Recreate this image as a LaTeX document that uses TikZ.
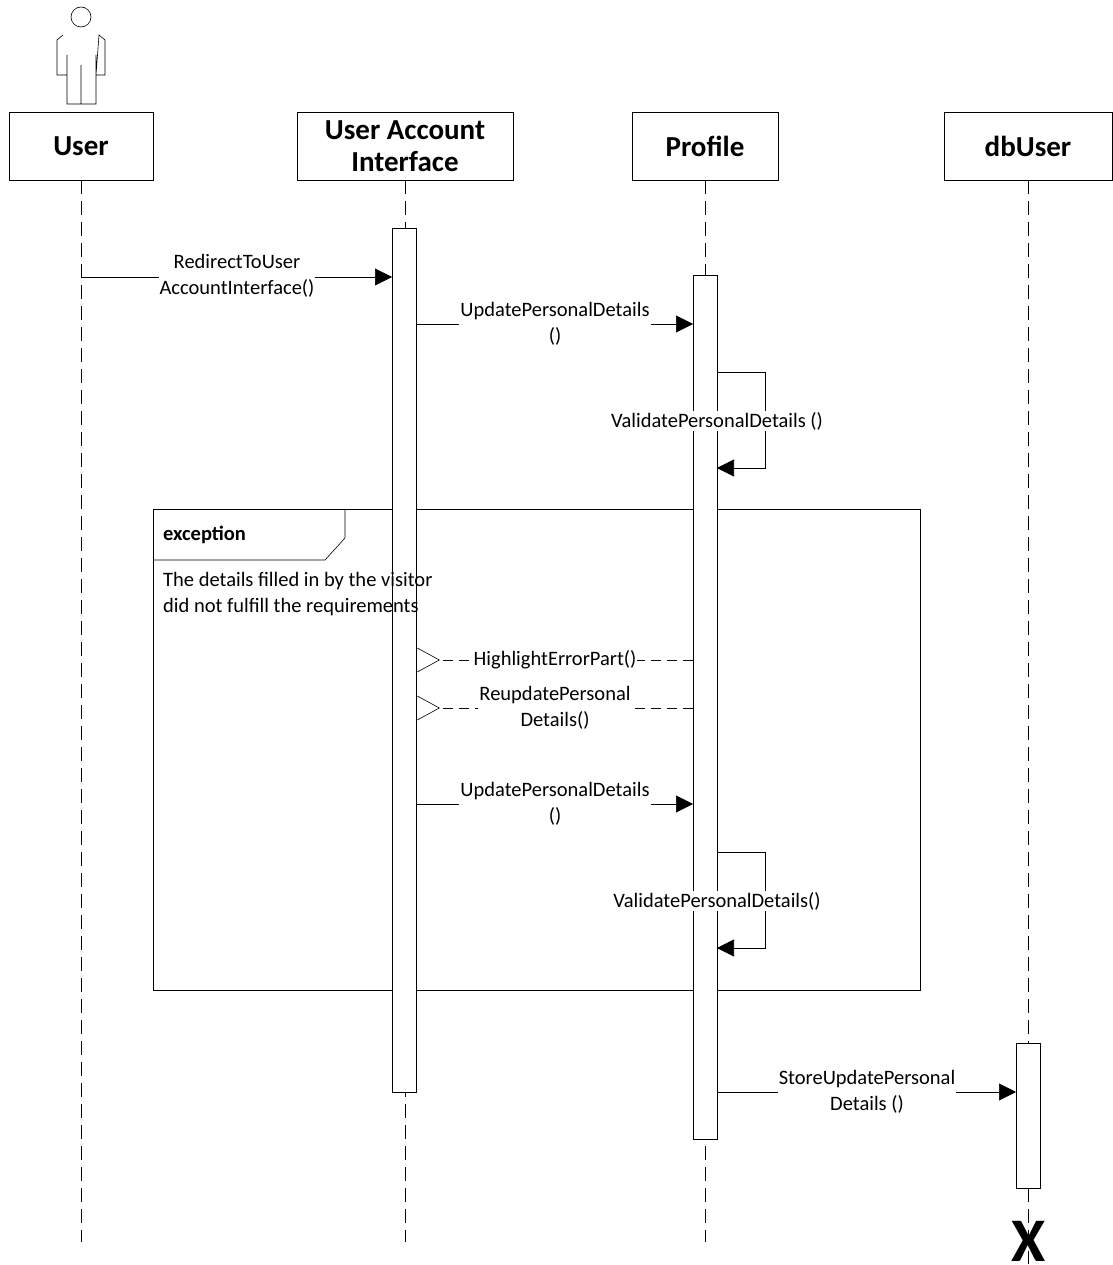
\documentclass[tikz,border=0pt]{standalone}
\usepackage{fontspec}
\setmainfont{Carlito}
\usetikzlibrary{arrows.meta,positioning}
\begin{document}
\begin{tikzpicture}[x=1pt,y=-1pt]
    \tikzset{HD/.style={draw=black,semithick,minimum height=68pt,font=\fontsize{29}{32}\selectfont\bfseries,align=center,inner sep=0pt}}
    \tikzset{LL/.style={draw=black,semithick,dash pattern=on 14pt off 7pt}}
    \tikzset{AC/.style={draw=black,fill=white,semithick,minimum width=24pt,inner sep=0pt}}
    \tikzset{MS/.style={draw=black,semithick,-{Triangle[length=17pt,width=17pt]}}}
    \tikzset{RT/.style={draw=black,semithick,dash pattern=on 10pt off 6pt,-{Straight Barb[length=22pt,width=24pt,reversed,sep=0pt]}}}
    \tikzset{TX/.style={fill=white,font=\fontsize{20.5}{26}\selectfont,align=center,inner sep=1pt}}
    \useasboundingbox (0,0) rectangle (1112,1265);

    \node (user) [HD,minimum width=144pt] at (81,146) {User};
    \node (uai) [HD,minimum width=216pt] at (405,146) {User Account\\Interface};
    \node (profile) [HD,minimum width=146pt] at (705,146) {Profile};
    \node (db) [HD,minimum width=168pt] at (1028,146) {dbUser};

    \coordinate (userend) at (81,1242);
    \coordinate (uaiend) at (405,1242);
    \coordinate (profileend) at (705,1242);
    \coordinate (dbend) at (1028,1264);
    \draw[LL] (user) -- (userend);
    \draw[LL] (uai) -- (uaiend);
    \draw[LL] (profile) -- (profileend);
    \draw[LL] (db) -- (dbend);

    % actor
    \draw[semithick] (81,17) circle (10pt);
    \draw[semithick] (63,35) -- (57,40) -- (57,75) -- (67,75) (67,55) -- (67,104) -- (96,104) -- (96,55) (96,75) -- (105,75) -- (105,40) -- (99,35) -- cycle (81,65) -- (81,104);

    % frame
    \node (frame) [draw=black,semithick,minimum width=767pt,minimum height=481pt,inner sep=0pt] at (536.5,750) {};
    \coordinate (tabr) at (345,510);
    \draw[semithick] (153,560) -- (325,560) -- (345,538) -- (tabr);

    % activations
    \node (uaibar) [AC,minimum height=864pt] at (404.5,660) {};
    \node (probar) [AC,minimum height=864pt] at (705,707) {};
    \node (dbbar) [AC,minimum height=145pt] at (1028,1115.5) {};

    \node (exc) [anchor=west,font=\fontsize{20.5}{26}\selectfont\bfseries,inner sep=0pt] at (163,535) {exception};
    \node (cond) [anchor=north west,font=\fontsize{20.5}{26}\selectfont,align=left,inner sep=0pt] at (163,572) {The details filled in by the visitor\\did not fulfill the requirements};

    % messages
    \coordinate (userm) at (81,277);
    \coordinate (m1) at (392,277);
    \draw[MS] (userm) -- (m1);
    \node (t1) [TX] at (237,276) {RedirectToUser\\AccountInterface()};

    \coordinate (a2) at (417,324);
    \coordinate (b2) at (693,324);
    \draw[MS] (a2) -- (b2);
    \node (t2) [TX] at (555,324) {UpdatePersonalDetails\\()};

    \coordinate (a3) at (717,372);
    \coordinate (b3) at (717,468);
    \draw[MS] (a3) -- (765,372) -- (765,468) -- (b3);
    \node (t3) [TX] at (717,421) {ValidatePersonalDetails ()};

    \coordinate (a4) at (693,660);
    \coordinate (b4) at (417,660);
    \draw[RT] (a4) -- (b4);
    \node (t4) [TX] at (555,660) {HighlightErrorPart()};

    \coordinate (a5) at (693,708);
    \coordinate (b5) at (417,708);
    \draw[RT] (a5) -- (b5);
    \node (t5) [TX] at (555,708) {ReupdatePersonal\\Details()};

    \coordinate (a6) at (417,804);
    \coordinate (b6) at (693,804);
    \draw[MS] (a6) -- (b6);
    \node (t6) [TX] at (555,804) {UpdatePersonalDetails\\()};

    \coordinate (a7) at (717,852);
    \coordinate (b7) at (717,948);
    \draw[MS] (a7) -- (765,852) -- (765,948) -- (b7);
    \node (t7) [TX] at (717,901) {ValidatePersonalDetails()};

    \coordinate (a8) at (717,1092);
    \coordinate (b8) at (1016,1092);
    \draw[MS] (a8) -- (b8);
    \node (t8) [TX] at (867,1092) {StoreUpdatePersonal\\Details ()};

    % destroy
    \node (kill) [font=\fontsize{62}{62}\selectfont\bfseries,inner sep=0pt] at (1029,1241) {X};
\end{tikzpicture}
\end{document}
